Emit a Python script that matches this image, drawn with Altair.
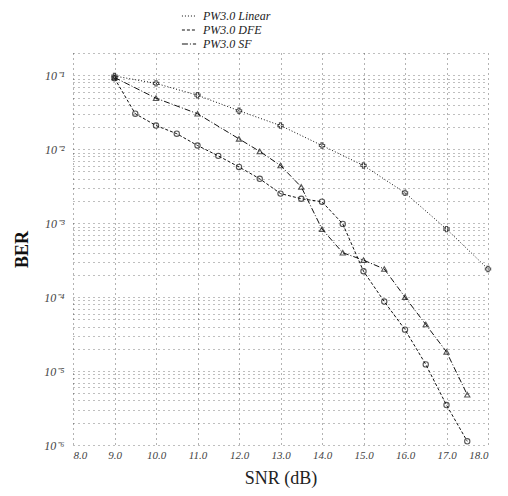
import altair as alt
import pandas as pd

series_names = ["PW3.0 Linear", "PW3.0 DFE", "PW3.0 SF"]
marker_shapes = ["cross", "circle", "triangle-up"]

snr_linear = [9.0, 10.0, 11.0, 12.0, 13.0, 14.0, 15.0, 16.0, 17.0, 18.0]
log_ber_linear = [-1.01, -1.11, -1.27, -1.48, -1.68, -1.95, -2.22, -2.59, -3.08, -3.62]

snr_dfe = [9.0, 9.5, 10.0, 10.5, 11.0, 11.5, 12.0, 12.5, 13.0, 13.5, 14.0, 14.5, 15.0, 15.5, 16.0, 16.5, 17.0, 17.5]
log_ber_dfe = [-1.04, -1.52, -1.68, -1.79, -1.95, -2.09, -2.24, -2.40, -2.60, -2.67, -2.71, -3.01, -3.65, -4.06, -4.44, -4.91, -5.46, -5.95]

snr_sf = [9.0, 10.0, 11.0, 12.0, 12.5, 13.0, 13.5, 14.0, 14.5, 15.0, 15.5, 16.0, 16.5, 17.0, 17.5]
log_ber_sf = [-1.03, -1.31, -1.52, -1.86, -2.03, -2.22, -2.51, -3.08, -3.40, -3.50, -3.62, -4.00, -4.37, -4.74, -5.32]

x_ticks = [8, 9, 10, 11, 12, 13, 14, 15, 16, 17, 18]
minor = [m * d for d in [1e-6, 1e-5, 1e-4, 1e-3, 1e-2, 1e-1] for m in [1, 2, 3, 4, 5, 6, 7, 8, 9]]
minor = [v for v in minor if v <= 0.2 + 1e-12]

rows = []
for name, xs, ys in [(series_names[0], snr_linear, log_ber_linear),
                     (series_names[1], snr_dfe, log_ber_dfe),
                     (series_names[2], snr_sf, log_ber_sf)]:
    for xv, yv in zip(xs, ys):
        rows.append({"series": name, "snr": xv, "ber": 10 ** yv})
df = pd.DataFrame(rows)

label_expr = (
    "abs(datum.value-1e-1)<1e-9 ? '10⁻¹' : abs(datum.value-1e-2)<1e-10 ? '10⁻²' : "
    "abs(datum.value-1e-3)<1e-11 ? '10⁻³' : abs(datum.value-1e-4)<1e-12 ? '10⁻⁴' : "
    "abs(datum.value-1e-5)<1e-13 ? '10⁻⁵' : abs(datum.value-1e-6)<1e-14 ? '10⁻⁶' : ''"
)

serif = "Liberation Serif"

x_enc = alt.X("snr:Q", title="SNR (dB)",
              scale=alt.Scale(domain=[8, 18], nice=False),
              axis=alt.Axis(values=x_ticks, format=".1f", grid=True, ticks=False, domain=False,
                            gridDash=[1, 4], gridColor="#000", gridOpacity=0.6,
                            labelFont=serif, labelFontStyle="italic", labelFontSize=11,
                            labelColor="#444", labelPadding=4, titleFont=serif, titleFontSize=18,
                            titleFontWeight="normal", titleColor="#222", titlePadding=9))
y_enc = alt.Y("ber:Q", title="BER",
              scale=alt.Scale(type="log", domain=[1e-6, 0.2], nice=False),
              axis=alt.Axis(values=minor, labelExpr=label_expr, grid=True, ticks=False, domain=False,
                            gridDash=[1, 4], gridColor="#000", gridOpacity=0.5,
                            labelFont=serif, labelFontStyle="italic", labelFontSize=12,
                            labelColor="#444", labelPadding=9, titleFont=serif, titleFontSize=18,
                            titleFontWeight="bold", titleColor="#111", titlePadding=12))

color_scale = alt.Scale(domain=series_names, range=["#111", "#111", "#111"])
dash_scale = alt.Scale(domain=series_names, range=[[1, 2], [3, 2], [6, 2, 1, 2]])

legend = alt.Legend(title=None, orient="none", legendX=108, legendY=-45, direction="vertical",
                    labelFont=serif, labelFontStyle="italic", labelFontSize=12, labelColor="#222",
                    symbolType="stroke", symbolSize=200, symbolStrokeWidth=1.2, rowPadding=0,
                    labelOffset=6)

lines = alt.Chart(df).mark_line(strokeWidth=1).encode(
    x=x_enc, y=y_enc,
    color=alt.Color("series:N", scale=color_scale, legend=legend),
    strokeDash=alt.StrokeDash("series:N", scale=dash_scale, legend=legend),
)

point_layers = [
    alt.Chart(df).transform_filter(alt.datum.series == name)
    .mark_point(size=28, strokeWidth=1.1, filled=False, color="#111", shape=shp)
    .encode(x="snr:Q", y="ber:Q")
    for name, shp in zip(series_names, marker_shapes)
]

chart = alt.layer(lines, *point_layers).properties(
    width=415, height=392,
    padding={"top": 0, "left": 5, "right": 5, "bottom": 5},
).configure_view(stroke=None)

chart.save("out.html", embed_options={"renderer": "svg", "actions": False})
